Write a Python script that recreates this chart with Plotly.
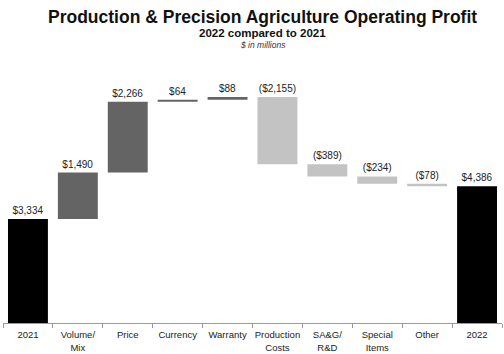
import plotly.graph_objects as go

categories = ["2021", "Volume/<br>Mix", "Price", "Currency", "Warranty",
              "Production<br>Costs", "SA&G/<br>R&D", "Special<br>Items", "Other", "2022"]
values = [3334, 1490, 2266, 64, 88, -2155, -389, -234, -78, 4386]
measures = ["total", "delta", "delta", "delta", "delta", "delta", "delta", "delta", "delta", "total"]
labels = ["$3,334", "$1,490", "$2,266", "$64", "$88", "($2,155)", "($389)", "($234)", "($78)", "$4,386"]

C_TOTAL = "#000000"
C_UP = "#646464"
C_DOWN = "#c3c3c3"

bases, heights, colors = [], [], []
running = 0
for v, m in zip(values, measures):
    if m == "total":
        bases.append(0)
        heights.append(v)
        colors.append(C_TOTAL)
        running = v
    else:
        new = running + v
        bases.append(min(running, new))
        heights.append(abs(v))
        colors.append(C_UP if v > 0 else C_DOWN)
        running = new

fig = go.Figure(go.Bar(
    x=categories, y=heights, base=bases,
    marker=dict(color=colors, line=dict(width=0)),
    text=labels, textposition="outside", cliponaxis=False,
    textfont=dict(family="Liberation Sans, Arial, sans-serif", size=10, color="#222222"),
    width=0.8,
))

H, T, B = 354, 60, 31
plot_h = H - T - B

def ypaper(ypix):
    return (H - B - ypix) / plot_h

fig.update_layout(
    width=504, height=354,
    margin=dict(l=3, r=2, t=T, b=B),
    paper_bgcolor="white", plot_bgcolor="white",
    showlegend=False,
    font=dict(family="Liberation Sans, Arial, sans-serif", color="#222222"),
    xaxis=dict(showline=True, linecolor="#9a9a9a", linewidth=1,
               ticks="outside", tickson="boundaries", ticklen=4, tickcolor="#9a9a9a",
               tickangle=0, automargin=False, ticklabelstandoff=3,
               tickfont=dict(size=9.5, color="#222222"), showgrid=False),
    yaxis=dict(range=[0, 8430], visible=False, showgrid=False, zeroline=False),
    annotations=[
        dict(text="<b>Production & Precision Agriculture Operating Profit</b>", x=0.521, y=ypaper(17),
             xref="paper", yref="paper", showarrow=False, yanchor="middle",
             font=dict(size=17.5, color="#111111")),
        dict(text="<b>2022 compared to 2021</b>", x=0.521, y=ypaper(33),
             xref="paper", yref="paper", showarrow=False, yanchor="middle",
             font=dict(size=11.5, color="#111111")),
        dict(text="<i>$ in millions</i>", x=0.521, y=ypaper(44.5),
             xref="paper", yref="paper", showarrow=False, yanchor="middle",
             font=dict(size=8.5, color="#333333")),
    ],
)

fig.write_html("out.html")
